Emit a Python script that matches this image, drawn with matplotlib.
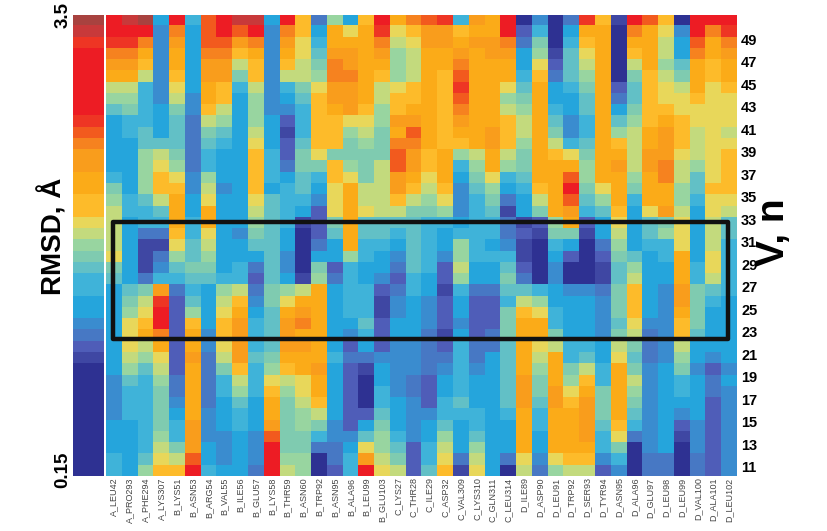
import matplotlib
matplotlib.use("Agg")
import matplotlib.pyplot as plt
import numpy as np
from matplotlib.colors import ListedColormap
from matplotlib.patches import Rectangle

plt.rcParams['font.family'] = ['Liberation Sans', 'DejaVu Sans']

residues = ["A_LEU42", "A_PRO293", "A_PHE294", "A_LYS307", "B_LYS51", "B_ASN53", "B_ARG54", "B_VAL55",
            "B_ILE56", "B_GLU57", "B_LYS58", "B_THR59", "B_ASN60", "B_TRP92", "B_ASN95", "B_ALA96",
            "B_LEU99", "B_GLU103", "C_LYS27", "C_THR28", "C_ILE29", "C_ASP32", "C_VAL309", "C_LYS310",
            "C_GLN311", "C_LEU314", "D_ILE89", "D_ASP90", "D_LEU91", "D_TRP92", "D_SER93", "D_TYR94",
            "D_ASN95", "D_ALA96", "D_GLU97", "D_LEU98", "D_LEU99", "D_VAL100", "D_ALA101", "D_LEU102"]

v_ticks = list(range(11, 50, 2))

# RMSD level per residue, a = lowest, u = highest. First row is v = 51, last is v = 11
rows_top = [
    "stufsgqstt fsmdjfmsnp qrgonsaead rmbsqmasss",
    "sssepfqsqs epmfnlnrlm oomnnscgaf nnapnlespr",
    "rrpeofqqop eolgnnnpkl oonoopdiag mnannkfqnp",
    "ppnenfppmn enlhoonojk nnonoofjbh lnamnkfpno",
    "oomenfookm emkiponnjk nnpnnnflch knaknjhnmn",
    "nnkemfooim ekkjppnmjk nmqnnngmdh jnaimkinmn",
    "kkgelfnmgk egiloonklm nmrnnlhnfg inchmlknlm",
    "jjgekenmfj efhmoonkmm nmqnnjinff hndhmllmll",
    "higfiemkfj eegmnomjmn nmpnnkjngf hnfimmllll",
    "fggfhdkjfj fcgmmlljoo nmonnmknhe gnhjmnmlll",
    "fghfhdihfk fbgmmjkinq nmnnomknie gnjknomklk",
    "ffhhhdhgfl fchmmijipp nmmnomjnkg hnmknomkll",
    "ffjkidgffm gciliiiiqo mnjknkinml innkoolklm",
    "ffjljdgffm gdiimjikqo mngjnjinnn jnokopkjlm",
    "gfjmlejffm gfhgmlikon lnfilghnnq jnnjnpkhlm",
    "ifjmmekefm fghflnkkom kmehjfgmns ilninnjhmm",
]
rows_mid = [
    "jghknflffl hggelnkkmk jlegidfknq hjngnnjgll",
    "kgghnfnffk hgfclnlkki ijeghbfino ghmflokflk",
    "kfggngnffj hgbcinhhhh ggfggdbcjn cflfhilfkh",
    "kfddmglfei hfachnhhgh gfgggdcbii bfkfhjlfkh",
    "kfbblhkffh hfadfnggfh gfjgfebagf adjfgglfkg",
    "lfbdjhjfff heaffjgfeh gejgggbafc acihfgnflg",
    "ifbehiifgd heaicgffdh gckffhcaea abhjffnglg",
    "hfdgghhggc hfbjdgfecg fcjffidaea abhkffngkg",
    "fhiodgfjkd ijknfggcdg fbgddhhgfe edimfeoihg",
    "fikrchfkme ilnnfggbef ecfccgkjff feimfeoigf",
    "fjlscjflnf hnonfggbef ecfccimlgf feimfeniff",
    "flmscmfmog hopnffhcff ececcinngf fehleemiff",
    "flnpcnemog honnfegcff dbfcdinnif feikdemhff",
]
rows_low = [
    "flkncnelog hoonfcfcee dcgddhnlkg gfkidekfff",
    "fkjlcodkoh innngddeee ddgdfhnkng hflhdejfef",
    "fjhkcndimg jmnofcbfee degefhnjni kgniefiece",
    "ehgjdndgkg lklnfcafed cfgffhoinj mgnkefgfdf",
    "eggidndgjg mjlnfcaged cfgffhoiol ninjefgfde",
    "eggiendfhf nikmfcagfe cghffhohom oiniefffce",
    "eggifnefgf nijkfcchfe egggfgngnn oinhefefce",
    "ffgigoefgf oijiecfife fhfgffngnn ohmgefcece",
    "ffgjgoeefe qiigeehjge fjfhffnfnn ogldefbece",
    "ffgkiofefe siiddfljhc gkfjffnfnn ngiaefaece",
    "gfhlkqfefe sjjadgokic gldkfdlelm megaddadce",
    "gfjmmsgffd skjacgslkc hmblfakdjk kceaddadce",
]

# colour strip on the left, top to bottom
scale_levels = "utrssssssrqpoonnmmlkjihggffedcbaaaaaaaaaa"

level_keys = "abcdefghijklmnopqrstu"
palette = ["#2E3192", "#3F47A3", "#4F5DB8", "#4778C4", "#3A8CCF", "#25A5DC", "#3FB3D9",
           "#62C0C6", "#7FCBB0", "#98D5A0", "#C3DA7D", "#E8D75A", "#FDBB2A", "#FBAB18",
           "#F99D1C", "#F6821F", "#F25A1E", "#EE3524", "#ED1C24", "#C8393A", "#A8423F"]


def toLevels(text):
    text = text.replace(" ", "")
    return [level_keys.index(c) for c in text[:40]]


grid = np.array([toLevels(r) for r in rows_top + rows_mid + rows_low])
strip = np.array([[level_keys.index(c)] for c in scale_levels])
cmap = ListedColormap(palette)

W, H = 827, 531
fig = plt.figure(figsize=(W / 100, H / 100), dpi=100)

ax = fig.add_axes([106 / W, 1 - 476 / H, 631 / W, 461.3 / H])
ax.imshow(grid, cmap=cmap, vmin=0, vmax=20, aspect="auto", interpolation="nearest",
          extent=[-0.5, 39.5, 10.5, 51.5])
ax.set_ylim(10.5, 51.5)
for s in ax.spines.values():
    s.set_visible(False)

ax.set_xticks(range(len(residues)))
ax.set_xticklabels(residues, rotation=90, fontsize=6.5, color="#444444",
                   family=['Liberation Sans Narrow', 'Liberation Sans'])
ax.tick_params(axis="x", length=0, pad=1)
ax.yaxis.tick_right()
ax.set_yticks([v + 0.3 for v in v_ticks])
ax.set_yticklabels(v_ticks, fontsize=10.5, fontweight="bold")
ax.tick_params(axis="y", length=0, pad=3)

ax.add_patch(Rectangle((-0.08, 22.7), 38.98, 10.4, fill=False, edgecolor="#111111", linewidth=3.2,
                       joinstyle="round", zorder=5))

ax2 = fig.add_axes([73.3 / W, 1 - 476 / H, 31 / W, 461.3 / H])
ax2.imshow(strip, cmap=cmap, vmin=0, vmax=20, aspect="auto", interpolation="nearest")
ax2.axis("off")

fig.text(63 / W, 1 - 15 / H, "3.5", rotation=90, ha="center", va="center", fontsize=13.5, fontweight="bold")
fig.text(63 / W, 1 - 470 / H, "0.15", rotation=90, ha="center", va="center", fontsize=13.5, fontweight="bold")
fig.text(53 / W, 1 - 236 / H, "RMSD, Å", rotation=90, ha="center", va="center", fontsize=20, fontweight="bold")
fig.text(774 / W, 1 - 232 / H, "V, n", rotation=90, ha="center", va="center", fontsize=28, fontweight="bold")

fig.savefig("out.png", dpi=100)
